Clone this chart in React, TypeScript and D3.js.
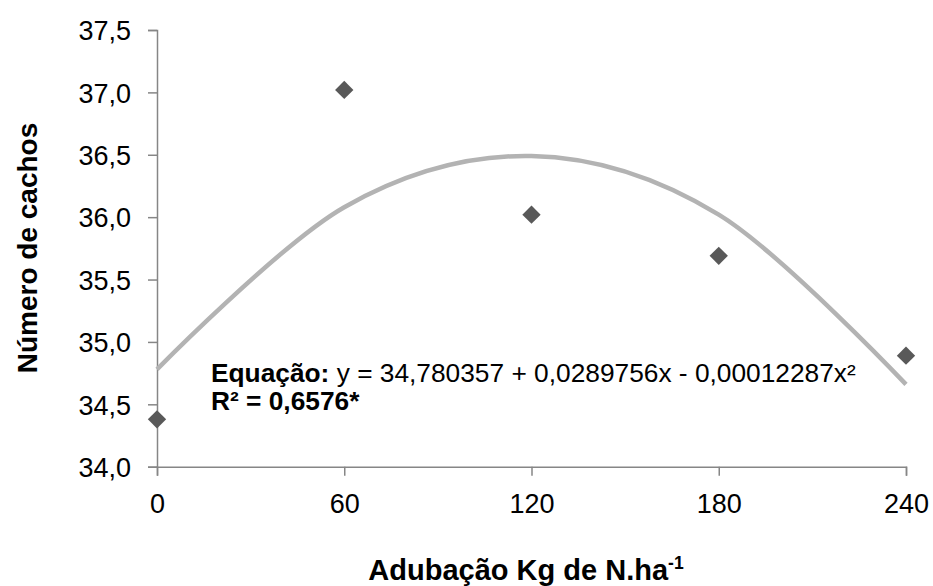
import React, { useEffect, useRef } from "react";
import * as d3 from "d3";

// Adubação (kg de N/ha)
const doses = [0, 60, 120, 180, 240];
// Número de cachos observado
const cachos = [34.38, 37.02, 36.02, 35.69, 34.89];
// Valores da curva de tendência
const tendencia = [34.78, 36.08, 36.49, 36.02, 34.66];
const yTicks = [34.0, 34.5, 35.0, 35.5, 36.0, 36.5, 37.0, 37.5];

const FONT = "Liberation Sans, Arial, sans-serif";

function App() {
  const svgRef = useRef<SVGSVGElement>(null);

  useEffect(() => {
    const width = 933;
    const height = 586;

    const svg = d3
      .select(svgRef.current)
      .attr("width", width)
      .attr("height", height);

    svg.selectAll("*").remove();

    const xScale = d3.scaleLinear().domain([0, 240]).range([157, 906]);
    const yScale = d3.scaleLinear().domain([34, 37.5]).range([466.7, 30]);

    const axisColor = "#868686";

    // Y axis
    const yAxis = svg
      .append("g")
      .attr("transform", `translate(${xScale(0)},0)`)
      .call(
        d3
          .axisLeft(yScale)
          .tickValues(yTicks)
          .tickSize(9)
          .tickPadding(17)
          .tickFormat((d) => d3.format(".1f")(d as number).replace(".", ","))
      );
    yAxis.select(".domain").attr("stroke", axisColor).attr("stroke-width", 1.5);
    yAxis.selectAll(".tick line").attr("stroke", axisColor).attr("stroke-width", 1.5);
    yAxis
      .selectAll(".tick text")
      .attr("font-family", FONT)
      .attr("font-size", 27)
      .attr("fill", "#000")
      .attr("dy", "0.36em");

    // X axis
    const xAxis = svg
      .append("g")
      .attr("transform", `translate(0,${yScale(34)})`)
      .call(
        d3
          .axisBottom(xScale)
          .tickValues(doses)
          .tickSize(9)
          .tickPadding(18)
          .tickFormat((d) => String(d))
      );
    xAxis.select(".domain").attr("stroke", axisColor).attr("stroke-width", 1.5);
    xAxis.selectAll(".tick line").attr("stroke", axisColor).attr("stroke-width", 1.5);
    xAxis
      .selectAll(".tick text")
      .attr("font-family", FONT)
      .attr("font-size", 27)
      .attr("fill", "#000");

    // Trend line (smoothed)
    const line = d3
      .line<number>()
      .x((_, i) => xScale(doses[i]))
      .y((d) => yScale(d))
      .curve(d3.curveCardinal.tension(0));

    svg
      .append("path")
      .datum(tendencia)
      .attr("d", line)
      .attr("fill", "none")
      .attr("stroke", "#b3b3b3")
      .attr("stroke-width", 4.5);

    // Points
    const diamond = d3.symbol().type(d3.symbolDiamond2).size(214);
    svg
      .append("g")
      .selectAll("path")
      .data(cachos)
      .join("path")
      .attr("d", diamond)
      .attr("transform", (d, i) => `translate(${xScale(doses[i])},${yScale(d)})`)
      .attr("fill", "#595959");

    // Equation
    const eq = svg
      .append("text")
      .attr("x", 211)
      .attr("y", 381.5)
      .attr("font-family", FONT)
      .attr("font-size", 26.3)
      .attr("fill", "#000");
    eq.append("tspan").attr("font-weight", "bold").text("Equação:");
    eq.append("tspan").text(" y = 34,780357 + 0,0289756x - 0,00012287x²");

    svg
      .append("text")
      .attr("x", 211)
      .attr("y", 409.5)
      .attr("font-family", FONT)
      .attr("font-size", 26.3)
      .attr("font-weight", "bold")
      .attr("fill", "#000")
      .text("R² = 0,6576*");

    // Axis titles
    const xTitle = svg
      .append("text")
      .attr("x", 526)
      .attr("y", 580)
      .attr("text-anchor", "middle")
      .attr("font-family", FONT)
      .attr("font-size", 29)
      .attr("font-weight", "bold")
      .attr("fill", "#000");
    xTitle.append("tspan").text("Adubação Kg de N.ha");
    xTitle.append("tspan").attr("font-size", 17.5).attr("dy", -11.5).text("-1");

    svg
      .append("text")
      .attr("transform", `translate(36.5,248) rotate(-90)`)
      .attr("text-anchor", "middle")
      .attr("font-family", FONT)
      .attr("font-size", 28)
      .attr("font-weight", "bold")
      .attr("fill", "#000")
      .text("Número de cachos");
  }, []);

  return (
    <svg
      ref={svgRef}
      style={{ position: "absolute", left: 0, top: 0, background: "#fff" }}
    ></svg>
  );
}

export default App;
